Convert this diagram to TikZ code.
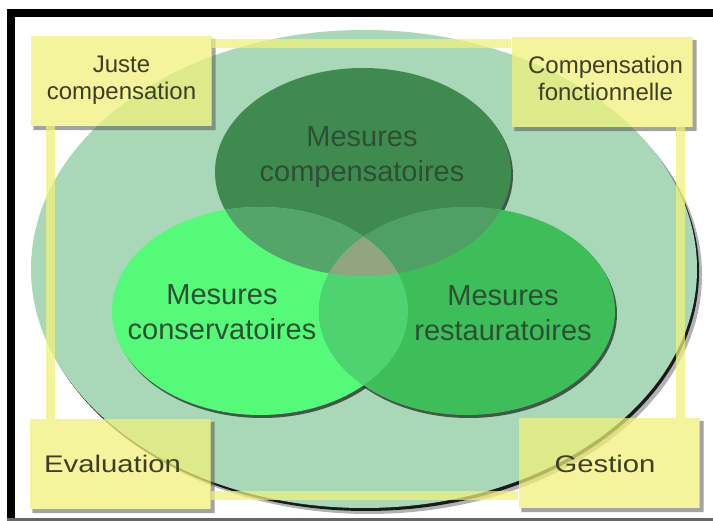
\documentclass[tikz,border=0pt]{standalone}
\usepackage{fontspec}
\setmainfont{Liberation Sans}
\newfontfamily\widesans[FakeStretch=1.22]{Liberation Sans}
\usetikzlibrary{calc}
\definecolor{biggreen}{RGB}{168,216,184}
\definecolor{topgreen}{RGB}{63,139,79}
\definecolor{leftgreen}{RGB}{85,250,120}
\definecolor{rightgreen}{RGB}{61,190,88}
\definecolor{tlgreen}{RGB}{85,164,105}
\definecolor{trgreen}{RGB}{80,160,102}
\definecolor{lrgreen}{RGB}{77,212,112}
\definecolor{tlrgreen}{RGB}{145,165,131}
\definecolor{boxyellow}{RGB}{241,241,119}
\definecolor{venntextc}{RGB}{46,79,53}
\definecolor{boxtextc}{RGB}{62,62,38}
\newcommand\vennT{(363,172) ellipse [x radius=148, y radius=104]}
\newcommand\vennL{(260,311) ellipse [x radius=148, y radius=104]}
\newcommand\vennR{(467,311) ellipse [x radius=148, y radius=104]}
\begin{document}
\begin{tikzpicture}[x=1pt,y=-1pt,
  venntext/.style={align=center, text=venntextc, font=\fontsize{29}{35}\selectfont, inner sep=0pt},
  boxnode/.style={minimum width=181pt, minimum height=90pt, inner sep=0pt, fill=boxyellow, fill opacity=0.72},
  boxtext/.style={align=center, text=boxtextc, font=\fontsize{24}{27}\selectfont, inner sep=0pt},
  widetext/.style={boxtext, font=\widesans\fontsize{24}{27}\selectfont, anchor=base},
  frameline/.style={draw=boxyellow, line width=9pt, opacity=0.72},
  boxshadow/.style={fill=black!65, opacity=0.55}]
\useasboundingbox (0,0) rectangle (713,521);
\fill[white] (0,0) rectangle (713,521);
% outer border
\fill[black] (7,9) rectangle (713,17);
\fill[black] (7,9) rectangle (15,521);
\fill[black!60] (7,518.5) rectangle (713,521);
% big ellipse with shadow
\fill[black, opacity=0.3] (369,275) ellipse [x radius=333, y radius=239];
\fill[black, opacity=0.85] (366,272) ellipse [x radius=333, y radius=239];
\fill[biggreen] (364,269) ellipse [x radius=333, y radius=239];
% venn shadows
\begin{scope}[shift={(2,3)}]
  \fill[black, opacity=0.6] \vennT;
  \fill[black, opacity=0.6] \vennL;
  \fill[black, opacity=0.6] \vennR;
\end{scope}
% venn fills
\fill[topgreen] \vennT;
\fill[leftgreen] \vennL;
\fill[rightgreen] \vennR;
\begin{scope}\clip \vennT; \fill[tlgreen] \vennL; \fill[trgreen] \vennR; \end{scope}
\begin{scope}\clip \vennL; \fill[lrgreen] \vennR; \end{scope}
\begin{scope}\clip \vennT; \clip \vennL; \fill[tlrgreen] \vennR; \end{scope}
% corner boxes
\node[boxnode] (juste) at (121,81) {};
\node[boxnode] (compf) at (602,82) {};
\node[boxnode] (evalb) at (120,464) {};
\node[boxnode] (gestb) at (609,463) {};
\foreach \b in {juste,compf,evalb,gestb}{
  \fill[boxshadow] ($(\b.north east)+(0,3)$) rectangle ($(\b.south east)+(4,4)$)
                   ($(\b.south west)+(3,0)$) rectangle ($(\b.south east)+(4,4)$);
}
% frame connecting the boxes
\coordinate (ftl) at (50,44);
\coordinate (fbr) at (680,496);
\draw[frameline] (juste.east |- ftl) -- (compf.west |- ftl);
\draw[frameline] (juste.south -| ftl) -- (evalb.north -| ftl);
\draw[frameline] (compf.south -| fbr) -- (gestb.north -| fbr);
\draw[frameline] (evalb.east |- fbr) -- (gestb.west |- fbr);
% texts
\node[venntext] (tcomp) at (362,157) {Mesures\\compensatoires};
\node[venntext] (tcons) at (222,312) {Mesures\\conservatoires};
\node[venntext] (trest) at (503,313) {Mesures\\restauratoires};
\node[boxtext] (tjuste) at (121.5,80.5) {Juste\\compensation};
\node[boxtext] (tcompf) at (605.5,78) {Compensation\\fonctionnelle};
\node[widetext] (teval) at (112.5,473) {Evaluation};
\node[widetext] (tgest) at (605,473) {Gestion};
\end{tikzpicture}
\end{document}
